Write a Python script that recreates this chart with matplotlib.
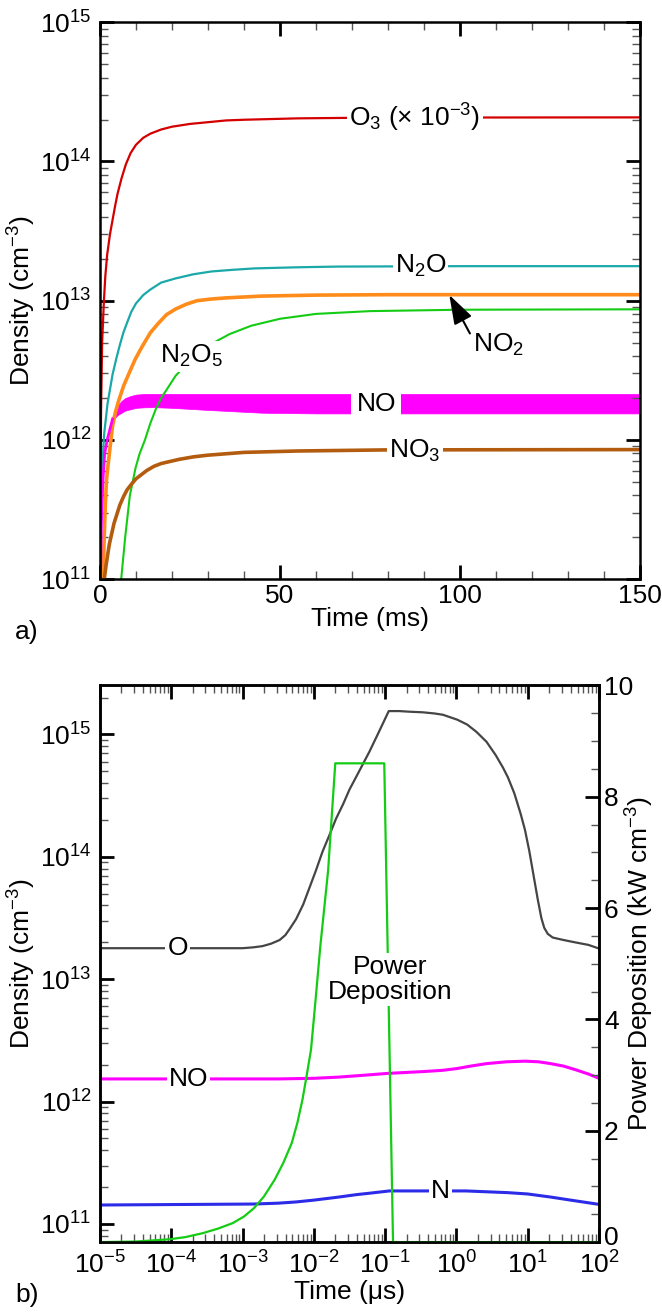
#Species densities after a discharge pulse (a) and during the pulse (b)

import numpy as np
import matplotlib
matplotlib.use('Agg')
import matplotlib.pyplot as plt
import matplotlib.transforms as mtransforms
from matplotlib.ticker import MultipleLocator, LogLocator, NullFormatter

plt.rcParams['font.family'] = ['Liberation Sans', 'DejaVu Sans']
plt.rcParams['mathtext.fontset'] = 'custom'
plt.rcParams['mathtext.rm'] = 'Liberation Sans'
plt.rcParams['mathtext.it'] = 'Liberation Sans:italic'
plt.rcParams['font.size'] = 19

#----- panel a) data: time in ms, log10 of density in cm^-3
o3_t = [0, 0.3, 0.6, 1.1, 1.5, 2.0, 2.8, 3.5, 4.2, 4.9, 6.0, 7.2, 8.5, 10, 12, 14, 17, 20, 25, 29, 35, 40, 55, 75, 100, 150]
o3_log = [11.0, 12.2, 12.7, 13.0, 13.18, 13.33, 13.48, 13.58, 13.68, 13.77, 13.88, 13.98, 14.06, 14.12, 14.17, 14.2, 14.23, 14.25, 14.27, 14.28, 14.295, 14.30, 14.31, 14.315, 14.316, 14.317]

n2o_t = [0, 0.3, 0.7, 1.2, 2.1, 3.5, 4.5, 5.5, 6.5, 7.5, 8.7, 10, 12, 14, 17, 21, 26, 31, 37, 43, 55, 66, 100, 150]
n2o_log = [11.0, 11.5, 11.85, 12.05, 12.26, 12.47, 12.58, 12.68, 12.77, 12.84, 12.92, 12.98, 13.04, 13.08, 13.13, 13.16, 13.19, 13.21, 13.222, 13.232, 13.24, 13.245, 13.248, 13.248]

no2_t = [0.9, 1.1, 1.4, 1.8, 2.6, 3.5, 4.3, 5.3, 6.6, 8.1, 9.8, 11.7, 14, 16.3, 18.5, 21, 24, 27, 31, 35, 45, 60, 80, 150]
no2_log = [11.0, 11.23, 11.47, 11.71, 11.9, 12.1, 12.2, 12.29, 12.39, 12.48, 12.58, 12.67, 12.77, 12.84, 12.9, 12.94, 12.975, 13.0, 13.012, 13.02, 13.033, 13.04, 13.043, 13.043]

n2o5_t = [5.9, 7.0, 8.3, 9.9, 11, 12.5, 14, 15.5, 17, 18.5, 21, 23.5, 26, 28.5, 31, 36, 42, 50, 60, 75, 100, 150]
n2o5_log = [11.0, 11.3, 11.6, 11.8, 11.9, 12.0, 12.12, 12.22, 12.3, 12.36, 12.46, 12.53, 12.6, 12.65, 12.69, 12.76, 12.82, 12.87, 12.905, 12.925, 12.935, 12.938]

no3_t = [1.2, 1.7, 2.6, 3.9, 5.5, 6.5, 7.5, 8.7, 10, 11.5, 13, 15, 17, 22, 26, 30, 40, 55, 80, 150]
no3_log = [11.0, 11.1, 11.25, 11.4, 11.53, 11.59, 11.64, 11.68, 11.72, 11.75, 11.78, 11.81, 11.83, 11.86, 11.878, 11.89, 11.91, 11.92, 11.928, 11.93]

# NO oscillates fast: rising part plus upper/lower envelope of the band
no_rise_t = [0.15, 0.4, 0.8, 1.3, 2.0, 2.7, 3.5]
no_rise_log = [11.0, 11.4, 11.7, 11.9, 12.0, 12.07, 12.15]
no_band_t = [3.5, 4.2, 5, 6, 7, 8.5, 10, 12.5, 15, 20, 30, 45, 60, 150]
no_band_hi = [12.17, 12.21, 12.25, 12.28, 12.3, 12.315, 12.325, 12.33, 12.33, 12.33, 12.33, 12.33, 12.33, 12.33]
no_band_lo = [12.14, 12.16, 12.18, 12.195, 12.21, 12.22, 12.23, 12.234, 12.235, 12.23, 12.215, 12.195, 12.19, 12.19]

#----- panel b) data: log10 of time in us, log10 of density in cm^-3, power in kW cm^-3
o_logt = [-5, -3.0, -2.85, -2.72, -2.6, -2.48, -2.4, -2.34, -2.25, -2.15, -2.06, -1.97, -1.88, -1.78, -1.69, -1.59, -1.50, -1.40, -1.31, -1.22, -1.08, -0.95,
          -0.8, -0.66, -0.47, -0.3, -0.19, 0.01, 0.15, 0.28, 0.42, 0.55, 0.65, 0.72, 0.81, 0.90, 0.96, 1.02, 1.08, 1.14, 1.19, 1.23, 1.28, 1.35, 1.5, 1.67, 1.85, 2.0]
o_log = [13.253, 13.253, 13.26, 13.27, 13.29, 13.32, 13.36, 13.41, 13.49, 13.61, 13.75, 13.89, 14.04, 14.18, 14.31, 14.43, 14.55, 14.66, 14.76, 14.86, 15.03, 15.19,
         15.19, 15.185, 15.18, 15.17, 15.16, 15.12, 15.08, 15.02, 14.94, 14.83, 14.73, 14.65, 14.52, 14.35, 14.22, 14.05, 13.85, 13.65, 13.5, 13.42, 13.37, 13.34, 13.32, 13.30, 13.28, 13.25]

no_logt = [-5, -2.5, -2.0, -1.65, -1.3, -0.97, -0.47, -0.2, 0.01, 0.2, 0.42, 0.7, 0.96, 1.15, 1.32, 1.5, 1.67, 1.85, 2.0]
no_log = [12.185, 12.185, 12.19, 12.2, 12.215, 12.23, 12.245, 12.255, 12.27, 12.29, 12.31, 12.325, 12.33, 12.325, 12.31, 12.29, 12.26, 12.225, 12.19]

n_logt = [-5, -2.84, -2.5, -2.25, -2.0, -1.65, -1.4, -1.24, -0.94, 0.13, 0.72, 1.0, 1.32, 1.6, 2.0]
n_log = [11.155, 11.163, 11.17, 11.18, 11.195, 11.22, 11.24, 11.25, 11.27, 11.27, 11.256, 11.245, 11.22, 11.195, 11.16]

pw_logt = [-5.0, -4.5, -4.03, -3.8, -3.56, -3.35, -3.14, -2.98, -2.84, -2.7, -2.55, -2.43, -2.31, -2.23, -2.16, -2.1, -2.04, -1.98, -1.91, -1.80, -1.70,
           -1.013, -0.89, 2.0]
pw = [0.0, 0.01, 0.05, 0.09, 0.16, 0.24, 0.34, 0.46, 0.61, 0.82, 1.12, 1.42, 1.78, 2.15, 2.56, 3.0, 3.46, 4.3, 5.31, 6.68, 8.6,
      8.6, 0.0, 0.0]

RED = '#d40000'
CYAN = '#1ba8a8'
ORANGE = '#ff8c1a'
GREEN = '#14cc14'
MAGENTA = '#ff00ff'
BROWN = '#b35c0f'
GREY = '#454545'
BLUE = '#2b2be8'

box = dict(facecolor='white', edgecolor='none', pad=1.5)


def style_frame(ax):
    for s in ax.spines.values():
        s.set_linewidth(1.8)
    ax.tick_params(which='both', direction='in')
    ax.tick_params(which='major', length=10, width=2)
    ax.tick_params(which='minor', length=6, width=1, color='#555555')


def ld(v):
    return 10 ** np.array(v)


fig = plt.figure(figsize=(6.62, 13.13), dpi=100)

#----- a)
ax1 = fig.add_axes([0.151, 0.559, 0.816, 0.424])
ax1.plot(o3_t, ld(o3_log), color=RED, lw=1.6)
ax1.plot(n2o_t, ld(n2o_log), color=CYAN, lw=1.6)
ax1.plot(no2_t, ld(no2_log), color=ORANGE, lw=2.6)
ax1.plot(n2o5_t, ld(n2o5_log), color=GREEN, lw=1.5)
ax1.plot(no3_t, ld(no3_log), color=BROWN, lw=2.6)
ax1.plot(no_rise_t, ld(no_rise_log), color=MAGENTA, lw=2)
ax1.fill_between(no_band_t, ld(no_band_lo), ld(no_band_hi), color=MAGENTA, lw=0.5)

ax1.set_yscale('log')
ax1.set_xlim(0, 150)
ax1.set_ylim(1e11, 1e15)
ax1.xaxis.set_major_locator(MultipleLocator(50))
ax1.xaxis.set_minor_locator(MultipleLocator(10))
style_frame(ax1)
ax1.tick_params(which='both', top=True, right=True)
ax1.tick_params(axis='y', which='major', pad=6)
ax1.set_xlabel('Time (ms)', labelpad=-1)
ax1.set_ylabel('Density (cm$^{-3}$)')
ax1.yaxis.set_label_coords(-0.115, 0.5)

ax1.text(87.5, 2.07e14, 'O$_3$ (× 10$^{-3}$)', ha='center', va='center', bbox=box, zorder=5)
ax1.text(89, 1.77e13, 'N$_2$O', ha='center', va='center', bbox=box, zorder=5)
ax1.text(25.5, 10**12.60, 'N$_2$O$_5$', ha='center', va='center', bbox=box, zorder=5)
ax1.text(76.7, 10**12.26, 'NO', ha='center', va='center',
         bbox=dict(facecolor='white', edgecolor='none', pad=4), zorder=5)
ax1.text(87.5, 10**11.92, 'NO$_3$', ha='center', va='center', bbox=box, zorder=5)
ax1.annotate('NO$_2$', xy=(97, 1.1e13), xytext=(103.5, 10**12.68), ha='left', va='center',
             arrowprops=dict(arrowstyle='-|>,head_length=0.9,head_width=0.3', color='black',
                             lw=1.5, shrinkA=0, shrinkB=0, relpos=(0, 0.75), mutation_scale=20),
             zorder=6)

fig.text(15 / 662, 1 - 632 / 1313, 'a)', va='center', ha='left')

#----- b)
ax2 = fig.add_axes([0.151, 0.054, 0.754, 0.424])
ax2.plot(ld(o_logt), ld(o_log), color=GREY, lw=1.6)
ax2.plot(ld(no_logt), ld(no_log), color=MAGENTA, lw=2.2)
ax2.plot(ld(n_logt), ld(n_log), color=BLUE, lw=2.2)
ax2.set_xscale('log')
ax2.set_yscale('log')
ax2.set_xlim(1e-5, 1e2)
ax2.set_ylim(10**10.852, 10**15.40)
ax2.xaxis.set_major_locator(LogLocator(base=10, numticks=20))
ax2.xaxis.set_minor_locator(LogLocator(base=10, subs=np.arange(2, 10), numticks=20))
ax2.xaxis.set_minor_formatter(NullFormatter())
style_frame(ax2)
ax2.tick_params(which='both', top=True, right=False)
ax2.tick_params(axis='y', which='major', pad=6)
ax2.tick_params(axis='x', which='major', pad=7)
ax2.set_xlabel('Time (μs)', labelpad=1)
ax2.set_ylabel('Density (cm$^{-3}$)')
ax2.yaxis.set_label_coords(-0.125, 0.5)

ax2.text(10**-3.91, 10**13.253, 'O', ha='center', va='center', bbox=box, zorder=5)
ax2.text(10**-3.76, 10**12.185, 'NO', ha='center', va='center', bbox=box, zorder=5)
ax2.text(10**-0.22, 10**11.27, 'N', ha='center', va='center', bbox=box, zorder=5)

ax3 = ax2.twinx()
ax3.plot(ld(pw_logt), pw, color=GREEN, lw=1.6)
ax3.set_ylim(0, 10)
ax3.set_yticks([0, 2, 4, 6, 8, 10])
ax3.yaxis.set_minor_locator(MultipleLocator(0.5))
style_frame(ax3)
ax3.tick_params(which='both', left=False, right=True)
ax3.set_ylabel('Power Deposition (kW cm$^{-3}$)')
ax3.yaxis.set_label_coords(1.05, 0.5)
ax3.text(10**-0.93, 4.71, 'Power\nDeposition', ha='center', va='center',
         linespacing=1.05, bbox=box, zorder=5)

# lift the "0" on the right axis a little, clear of the 10^2 label below it
fig.canvas.draw()
zero_lab = ax3.yaxis.get_major_ticks()[0].label2
zero_lab.set_transform(zero_lab.get_transform() + mtransforms.ScaledTranslation(0, 5 / 72, fig.dpi_scale_trans))

fig.text(15 / 662, 1 - 1295 / 1313, 'b)', va='center', ha='left')

plt.savefig('out.png', dpi=100)
